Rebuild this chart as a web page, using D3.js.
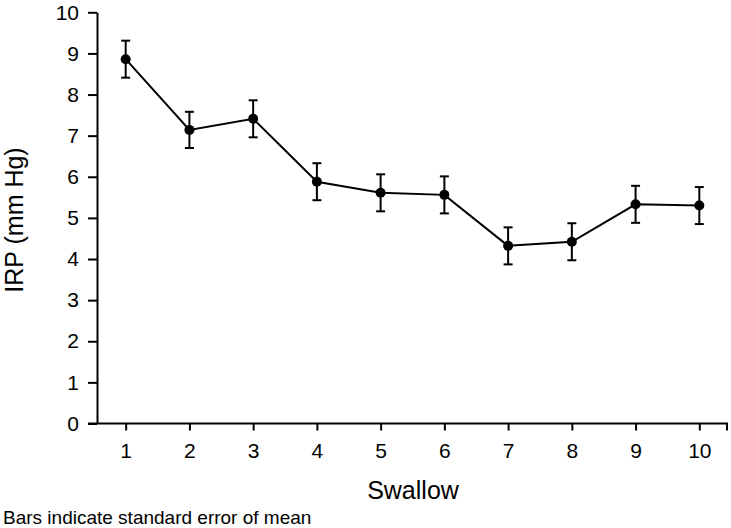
<!DOCTYPE html>
<html>
<head>
<meta charset="utf-8">
<script src="https://cdn.jsdelivr.net/npm/d3@7/dist/d3.min.js"></script>
<style>
  html, body { margin: 0; padding: 0; background: #fff; }
  svg { display: block; font-family: "Liberation Sans", Arial, Helvetica, sans-serif; }
</style>
</head>
<body>
<svg id="chart" width="731" height="528"></svg>
<script>
// ---- data ----
const swallows = [1, 2, 3, 4, 5, 6, 7, 8, 9, 10];
const irpMean = [8.86, 7.14, 7.41, 5.88, 5.61, 5.56, 4.32, 4.42, 5.33, 5.30];
const irpSem  = [0.45, 0.44, 0.45, 0.45, 0.45, 0.45, 0.45, 0.45, 0.45, 0.45];
const yTicks = [0, 1, 2, 3, 4, 5, 6, 7, 8, 9, 10];
const xTicks = [1, 2, 3, 4, 5, 6, 7, 8, 9, 10];
const xTitle = "Swallow";
const yTitle = "IRP (mm Hg)";
const footnote = "Bars indicate standard error of mean";

// ---- layout ----
const svg = d3.select("#chart");
const mLeft = 97, mRight = 728, mTop = 12.3, mBottom = 423.5;

const x = d3.scaleLinear().domain([0.55, 10.45]).range([mLeft, mRight]);
const y = d3.scaleLinear().domain([0, 10]).range([mBottom, mTop]);

const data = swallows.map((s, i) => ({ s, m: irpMean[i], e: irpSem[i] }));

// axes
const yAxis = d3.axisLeft(y).tickValues(yTicks).tickSize(9).tickSizeOuter(0).tickPadding(9);
const gy = svg.append("g").attr("transform", `translate(${mLeft},0)`).call(yAxis);
gy.select(".domain").attr("stroke", "#000").attr("stroke-width", 2);
gy.selectAll(".tick line").attr("stroke", "#000").attr("stroke-width", 2);
gy.selectAll(".tick text").attr("font-size", 21).attr("fill", "#000").attr("font-family", "Liberation Sans, Arial, sans-serif");

const xAxis = d3.axisBottom(x).tickValues(xTicks).tickSize(7).tickSizeOuter(0).tickPadding(13);
const gx = svg.append("g").attr("transform", `translate(0,${mBottom})`).call(xAxis);
gx.select(".domain").attr("stroke", "#000").attr("stroke-width", 2)
  .attr("d", `M${mLeft - 9},0H${mRight}`);
gx.selectAll(".tick line").attr("stroke", "#000").attr("stroke-width", 2);
gx.selectAll(".tick text").attr("font-size", 21).attr("fill", "#000").attr("font-family", "Liberation Sans, Arial, sans-serif");
// end tick at right of x axis
gx.append("line").attr("x1", x.range()[1] - 1).attr("x2", x.range()[1] - 1)
  .attr("y1", 0).attr("y2", 7).attr("stroke", "#000").attr("stroke-width", 2);

// line
const line = d3.line().x(d => x(d.s)).y(d => y(d.m));
svg.append("path").datum(data).attr("d", line)
  .attr("fill", "none").attr("stroke", "#000").attr("stroke-width", 2);

// error bars
const capW = 4.5;
const eb = svg.append("g").attr("stroke", "#000").attr("stroke-width", 2);
eb.selectAll("line.v").data(data).join("line").attr("class", "v")
  .attr("x1", d => x(d.s)).attr("x2", d => x(d.s))
  .attr("y1", d => y(d.m + d.e)).attr("y2", d => y(d.m - d.e));
eb.selectAll("line.t").data(data).join("line").attr("class", "t")
  .attr("x1", d => x(d.s) - capW).attr("x2", d => x(d.s) + capW)
  .attr("y1", d => y(d.m + d.e)).attr("y2", d => y(d.m + d.e));
eb.selectAll("line.b").data(data).join("line").attr("class", "b")
  .attr("x1", d => x(d.s) - capW).attr("x2", d => x(d.s) + capW)
  .attr("y1", d => y(d.m - d.e)).attr("y2", d => y(d.m - d.e));

// points
svg.append("g").selectAll("circle").data(data).join("circle")
  .attr("cx", d => x(d.s)).attr("cy", d => y(d.m)).attr("r", 5).attr("fill", "#000");

// titles
svg.append("text").attr("x", 413).attr("y", 499).attr("text-anchor", "middle")
  .attr("font-size", 25).attr("fill", "#000").text(xTitle);
svg.append("text").attr("transform", "translate(23,220) rotate(-90)").attr("text-anchor", "middle")
  .attr("font-size", 25).attr("fill", "#000").text(yTitle);
svg.append("text").attr("x", 3).attr("y", 524)
  .attr("font-size", 19).attr("fill", "#000").text(footnote);
</script>
</body>
</html>
